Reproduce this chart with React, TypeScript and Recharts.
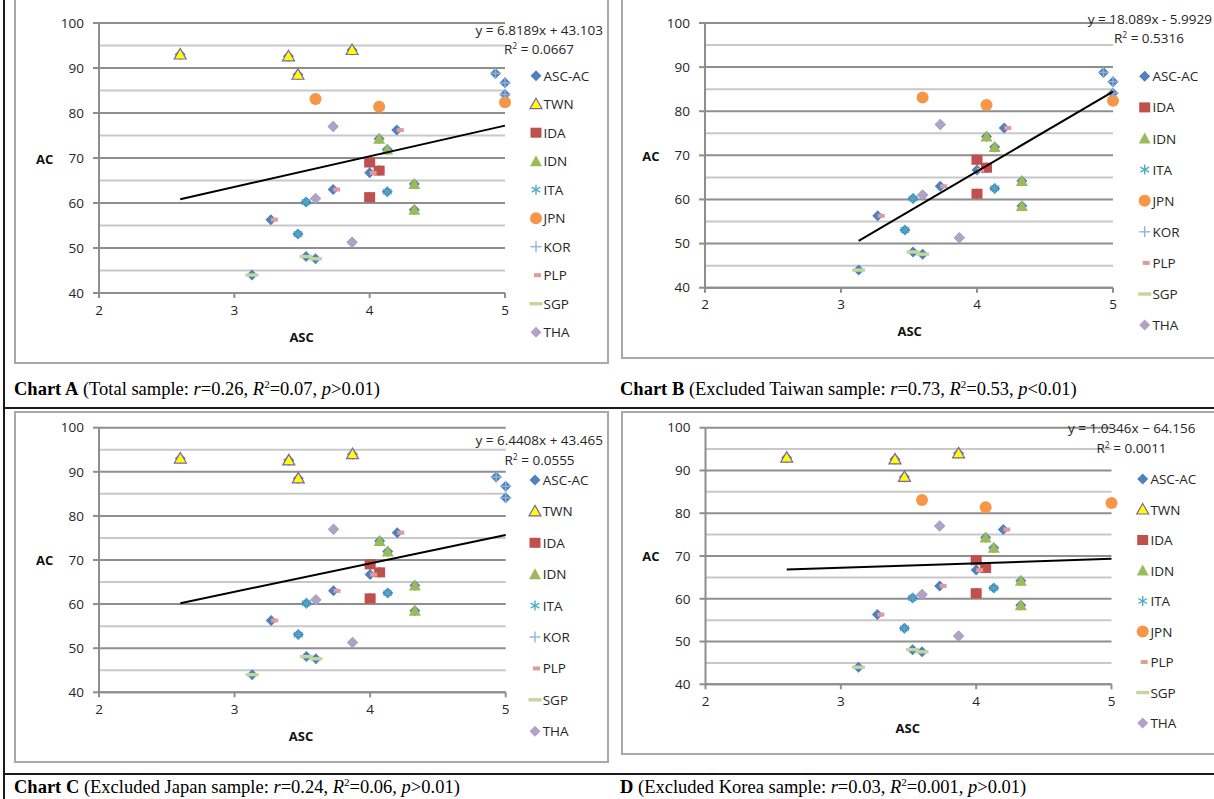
import React from 'react';
import { ScatterChart, Scatter, XAxis, YAxis, CartesianGrid } from 'recharts';

type Pt = { x: number; y: number };

// ---------- data (ASC, AC) per country ----------
const TWN: Pt[] = [
  { x: 2.6, y: 93.0 },
  { x: 3.4, y: 92.6 },
  { x: 3.47, y: 88.5 },
  { x: 3.87, y: 94.0 },
];
const IDA: Pt[] = [
  { x: 4.0, y: 69.0 },
  { x: 4.07, y: 67.2 },
  { x: 4.0, y: 61.3 },
];
const IDN: Pt[] = [
  { x: 4.07, y: 74.3 },
  { x: 4.13, y: 71.9 },
  { x: 4.33, y: 64.2 },
  { x: 4.33, y: 58.5 },
];
const ITA: Pt[] = [
  { x: 4.13, y: 62.5 },
  { x: 3.53, y: 60.2 },
  { x: 3.47, y: 53.1 },
];
const JPN: Pt[] = [
  { x: 3.6, y: 83.1 },
  { x: 4.07, y: 81.4 },
  { x: 5.0, y: 82.4 },
];
const KOR: Pt[] = [
  { x: 4.93, y: 88.8 },
  { x: 5.0, y: 86.7 },
  { x: 5.0, y: 84.1 },
];
const PLP: Pt[] = [
  { x: 4.2, y: 76.2 },
  { x: 4.0, y: 66.7 },
  { x: 3.73, y: 63.0 },
  { x: 3.27, y: 56.3 },
];
const SGP: Pt[] = [
  { x: 3.53, y: 48.1 },
  { x: 3.6, y: 47.6 },
  { x: 3.13, y: 44.0 },
];
const THA: Pt[] = [
  { x: 3.73, y: 77.0 },
  { x: 3.6, y: 61.0 },
  { x: 3.87, y: 51.3 },
];

const COUNTRIES = ['TWN', 'IDA', 'IDN', 'ITA', 'JPN', 'KOR', 'PLP', 'SGP', 'THA'];
const COUNTRY_DATA: Record<string, Pt[]> = { TWN, IDA, IDN, ITA, JPN, KOR, PLP, SGP, THA };

const X_TICKS = [2, 3, 4, 5];
const Y_TICKS = [40, 50, 60, 70, 80, 90, 100];
const Y_MINOR = [45, 55, 65, 75, 85, 95];

// per chart: excluded country, trend line, texts
const EXCLUDED = [null, 'TWN', 'JPN', 'KOR'];
const SLOPES = [6.8189, 18.089, 6.4408, 1.0346];
const INTERCEPTS = [43.103, -5.9929, 43.465, 64.156];
const EQ_TEXT = ['y = 6.8189x + 43.103', 'y = 18.089x - 5.9929', 'y = 6.4408x + 43.465', 'y = 1.0346x \u2212 64.156'];
const R2_TEXT = ['0.0667', '0.5316', '0.0555', '0.0011'];
const CAP_LABEL = ['Chart A', 'Chart B', 'Chart C', 'D'];
const CAP_SAMPLE = ['Total sample', 'Excluded Taiwan sample', 'Excluded Japan sample', 'Excluded Korea sample'];
const CAP_R = ['0.26', '0.73', '0.24', '0.03'];
const CAP_R2 = ['0.07', '0.53', '0.06', '0.001'];
const CAP_P = ['>0.01', '<0.01', '>0.01', '>0.01'];

// ---------- layout ----------
const YW = 60;
const XH = 30;
const LAYOUT = [
  { left: 0, top: 0, w: 610, h: 400, pL: 99, pR: 505, pT: 23, pB: 293, box: { l: 14, t: -4, r: 609, b: 364 },
    lg: { y0: 75.7, dy: 28.5, ix: 536, tx: 543.5 }, eq: { x: 603, y: 30, x2: 574, y2: 48 },
    ac: { x: 44.7, y: 159 }, asc: { x: 301.6, y: 336.7 }, cap: { x: 14, y: 379.5 } },
  { left: 610, top: 0, w: 604, h: 400, pL: 705, pR: 1113, pT: 23, pB: 287.7, box: { l: 621, t: -4, r: 1222, b: 359 },
    lg: { y0: 76.3, dy: 31.1, ix: 1144.7, tx: 1152.4 }, eq: { x: 1212, y: 19, x2: 1184, y2: 37.3 },
    ac: { x: 651, y: 155.7 }, asc: { x: 909.7, y: 331 }, cap: { x: 620, y: 379.5 } },
  { left: 0, top: 400, w: 610, h: 399, pL: 99, pR: 505.7, pT: 427.7, pB: 692.3, box: { l: 14, t: 411, r: 609, b: 763 },
    lg: { y0: 480, dy: 31.4, ix: 535, tx: 542.7 }, eq: { x: 603, y: 440, x2: 574.6, y2: 459 },
    ac: { x: 44.7, y: 560.3 }, asc: { x: 301, y: 736 }, cap: { x: 14, y: 777.5 } },
  { left: 610, top: 400, w: 604, h: 399, pL: 705.5, pR: 1111.5, pT: 427.7, pB: 684.3, box: { l: 621, t: 411, r: 1222, b: 755 },
    lg: { y0: 479, dy: 30.5, ix: 1142.7, tx: 1150.4 }, eq: { x: 1195.5, y: 427.7, x2: 1166.6, y2: 446.7 },
    ac: { x: 651, y: 555.7 }, asc: { x: 907.8, y: 727.7 }, cap: { x: 620, y: 777.5 } },
];

const COLORS: Record<string, string> = {
  'ASC-AC': '#4F81BD',
  TWN: '#FFFF00',
  IDA: '#C0504D',
  IDN: '#9BBB59',
  ITA: '#4BACC6',
  JPN: '#F79646',
  KOR: '#95B3D7',
  PLP: '#E29A9A',
  SGP: '#C3D69B',
  THA: '#B3A2C7',
};
const TWN_STROKE = '#7F63A8';
const MAJOR = '#8E8E8E';
const MINOR = '#C8C8C8';
const SANS = '"Open Sans", "Liberation Sans", sans-serif';
const SERIF = '"Liberation Serif", "Times New Roman", serif';

function marker(kind: string, cx: number, cy: number, key?: string | number) {
  const c = COLORS[kind];
  switch (kind) {
    case 'ASC-AC':
    case 'THA': {
      const s = 5.5;
      return <polygon key={key} points={`${cx},${cy - s} ${cx + s},${cy} ${cx},${cy + s} ${cx - s},${cy}`} fill={c} />;
    }
    case 'TWN':
      return <polygon key={key} points={`${cx},${cy - 6} ${cx + 6},${cy + 4.5} ${cx - 6},${cy + 4.5}`} fill={c} stroke={TWN_STROKE} strokeWidth={1.2} />;
    case 'IDN':
      return <polygon key={key} points={`${cx},${cy - 6} ${cx + 6},${cy + 5} ${cx - 6},${cy + 5}`} fill={c} />;
    case 'IDA':
      return <rect key={key} x={cx - 5.5} y={cy - 5} width={11} height={10} fill={c} />;
    case 'JPN':
      return <circle key={key} cx={cx} cy={cy} r={6} fill={c} />;
    case 'ITA': {
      const s = 5;
      return (
        <g key={key} stroke={c} strokeWidth={1.4}>
          <line x1={cx} y1={cy - s} x2={cx} y2={cy + s} />
          <line x1={cx - s * 0.87} y1={cy - s * 0.5} x2={cx + s * 0.87} y2={cy + s * 0.5} />
          <line x1={cx - s * 0.87} y1={cy + s * 0.5} x2={cx + s * 0.87} y2={cy - s * 0.5} />
        </g>
      );
    }
    case 'KOR': {
      const s = 5.5;
      return (
        <g key={key} stroke={c} strokeWidth={1.4}>
          <line x1={cx} y1={cy - s} x2={cx} y2={cy + s} />
          <line x1={cx - s} y1={cy} x2={cx + s} y2={cy} />
        </g>
      );
    }
    case 'PLP':
      return <rect key={key} x={cx} y={cy - 2} width={7} height={4} fill={c} />;
    case 'SGP':
      return <rect key={key} x={cx - 6.5} y={cy - 1.7} width={13} height={3.4} fill={c} />;
    default:
      return <g key={key} />;
  }
}

const shapeFor = (kind: string) => (props: any) => {
  if (props == null || props.cx == null || props.cy == null) return <g />;
  return marker(kind, props.cx, props.cy);
};

function Chart({ idx }: { idx: number }) {
  const L = LAYOUT[idx];
  const excluded = EXCLUDED[idx];
  const series = COUNTRIES.filter((c) => c !== excluded);
  const all: Pt[] = series.flatMap((c) => COUNTRY_DATA[c]);
  const xs = all.map((p) => p.x);
  const xMin = Math.min(...xs);
  const xMax = Math.max(...xs);
  const trend: Pt[] = [
    { x: xMin, y: SLOPES[idx] * xMin + INTERCEPTS[idx] },
    { x: xMax, y: SLOPES[idx] * xMax + INTERCEPTS[idx] },
  ];
  const margin = {
    top: L.pT - L.top,
    left: L.pL - L.left - YW,
    right: L.left + L.w - L.pR,
    bottom: L.top + L.h - L.pB - XH,
  };
  const tickStyle = { fontFamily: SANS, fontSize: 13.5, fill: '#262626' };
  return (
    <div style={{ position: 'absolute', left: L.left, top: L.top, width: L.w, height: L.h }}>
      <ScatterChart width={L.w} height={L.h} margin={margin}>
        <CartesianGrid horizontal vertical={false} horizontalValues={Y_MINOR} stroke={MINOR} strokeWidth={2} />
        <CartesianGrid horizontal vertical={false} horizontalValues={Y_TICKS} stroke={MAJOR} strokeWidth={2} />
        <XAxis
          type="number"
          dataKey="x"
          domain={[2, 5]}
          ticks={X_TICKS}
          height={XH}
          tickSize={5}
          tickMargin={7}
          tick={tickStyle}
          axisLine={{ stroke: MAJOR, strokeWidth: 2 }}
          tickLine={{ stroke: MAJOR, strokeWidth: 2 }}
        />
        <YAxis
          type="number"
          dataKey="y"
          domain={[40, 100]}
          ticks={Y_TICKS}
          width={YW}
          tickSize={6}
          tickMargin={9}
          tick={tickStyle}
          axisLine={{ stroke: MAJOR, strokeWidth: 2 }}
          tickLine={{ stroke: MAJOR, strokeWidth: 2 }}
        />
        <Scatter name="ASC-AC" data={all} isAnimationActive={false} shape={shapeFor('ASC-AC')} />
        {series.map((c) => (
          <Scatter key={c} name={c} data={COUNTRY_DATA[c]} isAnimationActive={false} shape={shapeFor(c)} />
        ))}
        <Scatter
          name="trend"
          data={trend}
          isAnimationActive={false}
          line={{ stroke: '#000', strokeWidth: 2 }}
          shape={() => <g />}
          legendType="none"
        />
      </ScatterChart>
    </div>
  );
}

function Overlay({ idx }: { idx: number }) {
  const L = LAYOUT[idx];
  const excluded = EXCLUDED[idx];
  const items = ['ASC-AC', ...COUNTRIES.filter((c) => c !== excluded)];
  const txt = { fontFamily: SANS, fontSize: 13.5, fill: '#262626' } as const;
  return (
    <g>
      {items.map((it, i) => {
        const y = L.lg.y0 + i * L.lg.dy;
        return (
          <g key={it}>
            {marker(it, it === 'PLP' ? L.lg.ix - 2 : L.lg.ix, y)}
            <text x={L.lg.tx} y={y} dominantBaseline="central" {...txt}>
              {it}
            </text>
          </g>
        );
      })}
      <text x={L.eq.x} y={L.eq.y} textAnchor="end" dominantBaseline="central" {...txt}>
        {EQ_TEXT[idx]}
      </text>
      <text x={L.eq.x2} y={L.eq.y2 + 1} textAnchor="end" dominantBaseline="central" {...txt}>
        R<tspan fontSize={8.5} dy={-4}>2</tspan>
        <tspan dy={4}>{' = ' + R2_TEXT[idx]}</tspan>
      </text>
      <text x={L.ac.x} y={L.ac.y} textAnchor="middle" dominantBaseline="central" fontFamily={SANS} fontSize={13} fontWeight="bold" fill="#111">
        AC
      </text>
      <text x={L.asc.x} y={L.asc.y} textAnchor="middle" dominantBaseline="central" fontFamily={SANS} fontSize={13} fontWeight="bold" fill="#111">
        ASC
      </text>
    </g>
  );
}

function Caption({ idx }: { idx: number }) {
  const L = LAYOUT[idx];
  return (
    <div
      style={{
        position: 'absolute',
        left: L.cap.x,
        top: L.cap.y,
        fontFamily: SERIF,
        fontSize: 18.5,
        lineHeight: '18.5px',
        whiteSpace: 'nowrap',
        color: '#000',
      }}
    >
      <b>{CAP_LABEL[idx]}</b> ({CAP_SAMPLE[idx]}: <i>r</i>={CAP_R[idx]}, <i>R</i>
      <span style={{ fontSize: 11, position: 'relative', top: -7 }}>2</span>={CAP_R2[idx]}, <i>p</i>
      {CAP_P[idx]})
    </div>
  );
}

export default function App() {
  const idxs = [0, 1, 2, 3];
  return (
    <div style={{ position: 'absolute', left: 0, top: 0, width: 1214, height: 799, overflow: 'hidden', background: '#fff' }}>
      {idxs.map((i) => {
        const b = LAYOUT[i].box;
        return (
          <div
            key={'box' + i}
            style={{
              position: 'absolute',
              left: b.l,
              top: b.t,
              width: b.r - b.l,
              height: b.b - b.t,
              border: '2px solid #A8A8A8',
              boxSizing: 'border-box',
            }}
          />
        );
      })}
      <div style={{ position: 'absolute', left: 3, top: 0, width: 2, height: 799, background: '#1a1a1a' }} />
      <div style={{ position: 'absolute', left: 3, top: 407, width: 1211, height: 2, background: '#1a1a1a' }} />
      <div style={{ position: 'absolute', left: 3, top: 773, width: 1211, height: 2, background: '#1a1a1a' }} />
      {idxs.map((i) => (
        <Chart key={'c' + i} idx={i} />
      ))}
      <svg width={1214} height={799} style={{ position: 'absolute', left: 0, top: 0, pointerEvents: 'none' }}>
        {idxs.map((i) => (
          <Overlay key={'o' + i} idx={i} />
        ))}
      </svg>
      {idxs.map((i) => (
        <Caption key={'cap' + i} idx={i} />
      ))}
    </div>
  );
}
